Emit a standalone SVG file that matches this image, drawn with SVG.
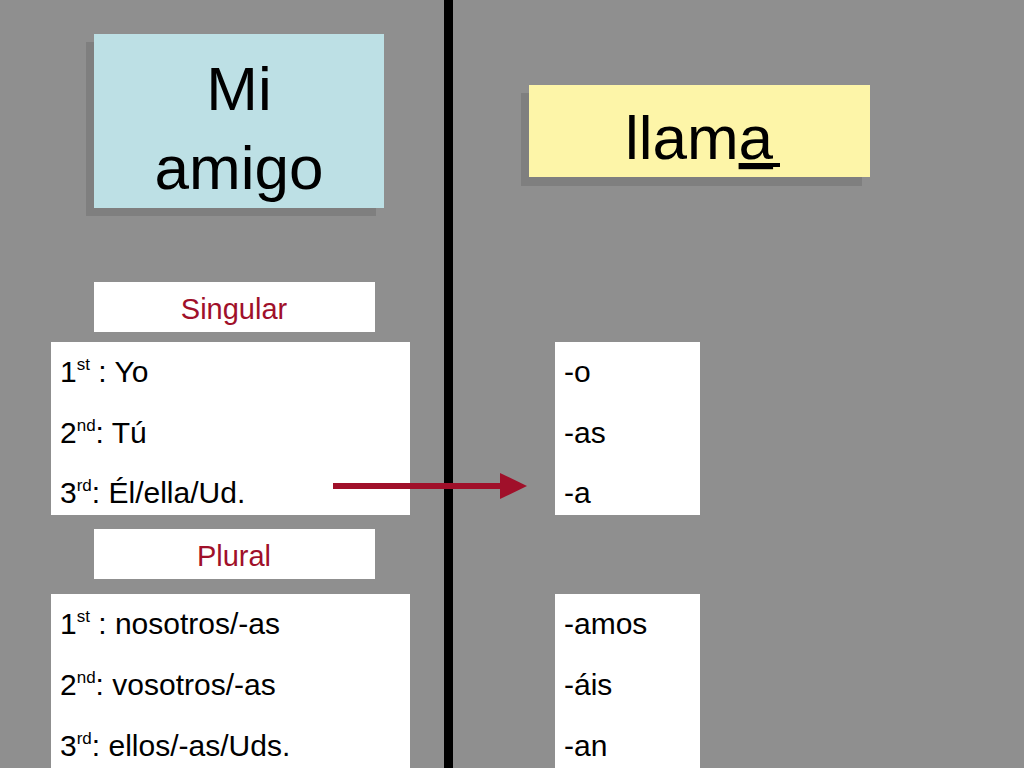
<svg xmlns="http://www.w3.org/2000/svg" width="1024" height="768" viewBox="0 0 1024 768">
<style>
text{font-family:"Liberation Sans",Arial,sans-serif;fill:#000}
.t{font-size:30px}
.s{font-size:17px}
.lbl{font-size:29px;fill:#a0102a}
.w{fill:#fff}
.sh{fill:#7f7f7f}
</style>
<rect width="1024" height="768" fill="#8f8f8f"/>
<rect x="444" y="0" width="9" height="768" fill="#000"/>
<g id="mi-amigo">
<rect class="sh" x="86" y="42" width="290" height="174"/>
<rect x="94" y="34" width="290" height="174" fill="#bde0e5"/>
<text x="239" y="110" font-size="62" text-anchor="middle">Mi</text>
<text x="239" y="189" font-size="62" text-anchor="middle">amigo</text>
</g>
<g id="llama">
<rect class="sh" x="521" y="93" width="341" height="93"/>
<rect x="529" y="85" width="341" height="92" fill="#fdf5a8"/>
<text x="699" y="159" font-size="62" text-anchor="middle">llam<tspan text-decoration="underline">a</tspan></text>
<rect x="743" y="163" width="37" height="4" fill="#000"/>
</g>
<g id="singular">
<rect class="w" x="94" y="282" width="281" height="50"/>
<text class="lbl" x="234" y="319" text-anchor="middle">Singular</text>
</g>
<g id="sing-pronouns">
<rect class="w" x="51" y="342" width="359" height="173"/>
<text class="t" x="60" y="382">1<tspan class="s" dy="-12">st</tspan><tspan dy="12"> :  Yo</tspan></text>
<text class="t" x="60" y="443">2<tspan class="s" dy="-12">nd</tspan><tspan dy="12">:  Tú</tspan></text>
<text class="t" x="60" y="503">3<tspan class="s" dy="-12">rd</tspan><tspan dy="12">:   Él/ella/Ud.</tspan></text>
</g>
<g id="sing-endings">
<rect class="w" x="555" y="342" width="145" height="173"/>
<text class="t" x="564" y="382">-o</text>
<text class="t" x="564" y="443">-as</text>
<text class="t" x="564" y="503">-a</text>
</g>
<g id="plural">
<rect class="w" x="94" y="529" width="281" height="50"/>
<text class="lbl" x="234" y="566" text-anchor="middle">Plural</text>
</g>
<g id="plur-pronouns">
<rect class="w" x="51" y="594" width="359" height="180"/>
<text class="t" x="60" y="634">1<tspan class="s" dy="-12">st</tspan><tspan dy="12"> :  nosotros/-as</tspan></text>
<text class="t" x="60" y="695">2<tspan class="s" dy="-12">nd</tspan><tspan dy="12">:  vosotros/-as</tspan></text>
<text class="t" x="60" y="756">3<tspan class="s" dy="-12">rd</tspan><tspan dy="12">:   ellos/-as/Uds.</tspan></text>
</g>
<g id="plur-endings">
<rect class="w" x="555" y="594" width="145" height="180"/>
<text class="t" x="564" y="634">-amos</text>
<text class="t" x="564" y="695">-áis</text>
<text class="t" x="564" y="756">-an</text>
</g>
<g id="connectors">
<line x1="333" y1="486" x2="502" y2="486" stroke="#a0102a" stroke-width="6"/>
<polygon points="500,473 527,486 500,499" fill="#a0102a"/>
</g>
</svg>
